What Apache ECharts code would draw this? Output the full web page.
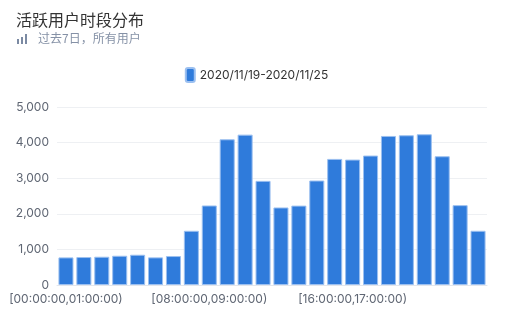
<!DOCTYPE html>
<html>
<head>
<meta charset="utf-8">
<script src="https://cdn.jsdelivr.net/npm/echarts@6/dist/echarts.min.js"></script>
<style>
html,body{margin:0;padding:0;background:#fff;}
#c{width:513px;height:320px;}
</style>
</head>
<body>
<div id="c"></div>
<script>
var titleText = '活跃用户时段分布';
var subText = '过去7日，所有用户';
var seriesName = '2020/11/19-2020/11/25';
var hours = ['00','01','02','03','04','05','06','07','08','09','10','11','12','13','14','15','16','17','18','19','20','21','22','23','24'];
var categories = [];
for (var i = 0; i < 24; i++) {
  categories.push('[' + hours[i] + ':00:00,' + hours[i + 1] + ':00:00)');
}
var values = [775, 785, 794, 822, 850, 776, 813, 1523, 2234, 4093, 4224, 2925, 2178, 2230, 2935, 3542, 3523, 3636, 4187, 4206, 4234, 3617, 2243, 1523];
var yTicks = [0, 1000, 2000, 3000, 4000, 5000];

var chart = echarts.init(document.getElementById('c'));
var fontFamily = 'Inter, "Noto Sans CJK SC", sans-serif';
var cjkFont = '"Noto Sans CJK SC", sans-serif';
chart.setOption({
  animation: false,
  textStyle: { fontFamily: fontFamily },
  title: {
    text: titleText,
    left: 11,
    top: 7,
    textStyle: { fontSize: 16, fontWeight: 'normal', color: '#333', fontFamily: cjkFont }
  },
  graphic: [
    { type: 'rect', shape: { x: 17, y: 39, width: 2, height: 5 }, style: { fill: '#7b8aa3' } },
    { type: 'rect', shape: { x: 21, y: 37, width: 2, height: 7 }, style: { fill: '#7b8aa3' } },
    { type: 'rect', shape: { x: 25, y: 34, width: 2, height: 10 }, style: { fill: '#7b8aa3' } },
    { type: 'text', left: 38, top: 32, style: { text: subText, fontSize: 12, fill: '#8591a6', fontFamily: cjkFont } }
  ],
  legend: {
    top: 62,
    left: 'center',
    itemWidth: 9,
    itemHeight: 14,
    itemGap: 10,
    icon: 'roundRect',
    textStyle: { fontSize: 12, color: '#333', fontFamily: fontFamily },
    data: [seriesName]
  },
  grid: { left: 57, right: 26, top: 107, bottom: 35, containLabel: false },
  xAxis: {
    type: 'category',
    data: categories,
    boundaryGap: true,
    axisLine: { lineStyle: { color: '#e3e6ec' } },
    axisTick: { interval: 7, length: 5, lineStyle: { color: '#d5d9e0' } },
    axisLabel: { interval: 7, color: '#5f6673', fontSize: 12, margin: 8, fontFamily: fontFamily }
  },
  yAxis: {
    type: 'value',
    min: yTicks[0],
    max: yTicks[yTicks.length - 1],
    interval: 1000,
    axisLine: { show: false },
    axisTick: { show: false },
    axisLabel: {
      color: '#5f6673', fontSize: 12, margin: 8, fontFamily: fontFamily,
      formatter: function (v) { return v.toLocaleString('en-US'); }
    },
    splitLine: { lineStyle: { color: '#eef0f3' } }
  },
  series: [{
    name: seriesName,
    type: 'bar',
    data: values,
    barCategoryGap: '16%',
    itemStyle: { color: '#2f7bdb', borderColor: '#9cc0f0', borderWidth: 1 }
  }]
});
</script>
</body>
</html>
